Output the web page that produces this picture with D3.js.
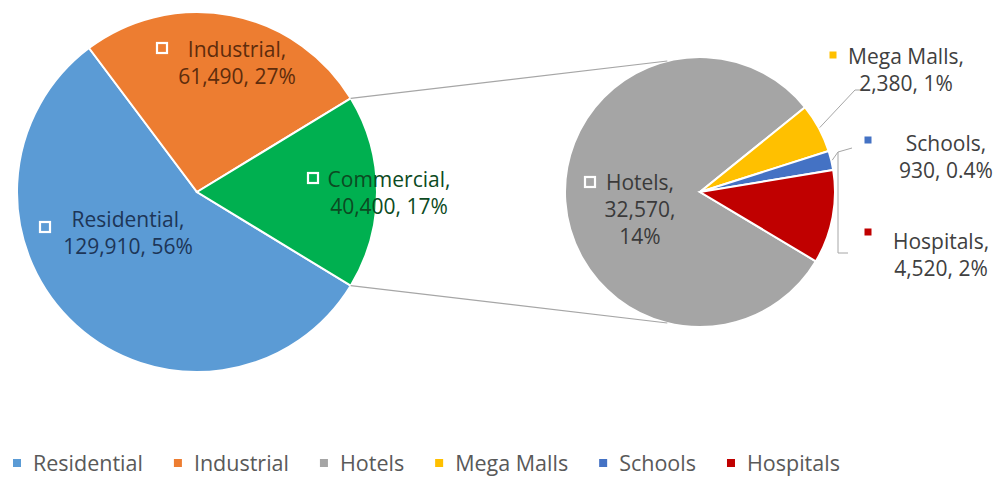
<!DOCTYPE html>
<html>
<head>
<meta charset="utf-8">
<script src="https://cdn.jsdelivr.net/npm/d3@7"></script>
<style>
  body { margin: 0; background: #fff; }
  svg text { font-family: "Open Sans", "Noto Sans", sans-serif; }
</style>
</head>
<body>
<div id="chart"></div>
<script>
// main pie data
const mainCategories = ["Residential", "Industrial", "Commercial"];
const mainValues = [129910, 61490, 40400];
const mainPercents = ["56%", "27%", "17%"];

// secondary pie data (split of Commercial)
const subCategories = ["Hotels", "Mega Malls", "Schools", "Hospitals"];
const subValues = [32570, 2380, 930, 4520];
const subPercents = ["14%", "1%", "0.4%", "2%"];

// legend order
const legendLabels = ["Residential", "Industrial", "Hotels", "Mega Malls", "Schools", "Hospitals"];

const colors = {
    "Residential": "#5b9bd5",
    "Industrial": "#ed7d31",
    "Commercial": "#00b050",
    "Hotels": "#a5a5a5",
    "Mega Malls": "#ffc000",
    "Schools": "#4472c4",
    "Hospitals": "#c00000"
};
const textColors = {
    "Residential": "#1d3557",
    "Industrial": "#5e2c0c",
    "Commercial": "#0c4a22",
    "Hotels": "#3a3a3a"
};

const width = 996, height = 477;
const main = {cx: 197, cy: 192, r: 180};
const sub = {cx: 700, cy: 192, r: 135};

const svg = d3.select("#chart").append("svg")
    .attr("width", width)
    .attr("height", height);

const fmt = d3.format(",");

// main pie: Commercial centred on the right
const mainData = mainCategories.map((c, i) => ({name: c, value: mainValues[i], pct: mainPercents[i]}));
const mainTotal = d3.sum(mainValues);
const comAngle = 2 * Math.PI * mainValues[2] / mainTotal;
const mainStart = Math.PI / 2 + comAngle / 2;
const mainPie = d3.pie().sort(null).value(d => d.value)
    .startAngle(mainStart).endAngle(mainStart + 2 * Math.PI);
const mainArcs = mainPie(mainData);
const mainArc = d3.arc().innerRadius(0).outerRadius(main.r);

const gMain = svg.append("g").attr("transform", `translate(${main.cx},${main.cy})`);
gMain.selectAll("path")
    .data(mainArcs)
    .enter().append("path")
    .attr("d", mainArc)
    .attr("fill", d => colors[d.data.name])
    .attr("stroke", "#fff")
    .attr("stroke-width", 2);

// secondary pie: small slices centred a bit above horizontal
const subData = subCategories.map((c, i) => ({name: c, value: subValues[i], pct: subPercents[i]}));
const subTotal = d3.sum(subValues);
const hotelAngle = 2 * Math.PI * subValues[0] / subTotal;
const smallSpan = 2 * Math.PI - hotelAngle;
const smallMid = 86 * Math.PI / 180;
const subStart = smallMid - smallSpan / 2 - hotelAngle;
const subPie = d3.pie().sort(null).value(d => d.value)
    .startAngle(subStart).endAngle(subStart + 2 * Math.PI);
const subArcs = subPie(subData);
const subArc = d3.arc().innerRadius(0).outerRadius(sub.r);

const gSub = svg.append("g").attr("transform", `translate(${sub.cx},${sub.cy})`);
gSub.selectAll("path")
    .data(subArcs)
    .enter().append("path")
    .attr("d", subArc)
    .attr("fill", d => colors[d.data.name])
    .attr("stroke", "#fff")
    .attr("stroke-width", 2);

// point on a circle at a d3 angle (clockwise from 12 o'clock)
function polar(c, r, a) {
    return [c.cx + r * Math.sin(a), c.cy - r * Math.cos(a)];
}

// connector lines between Commercial and the secondary pie
const com = mainArcs[2];
const tilt = 14 * Math.PI / 180;
const connectors = [
    [polar(main, main.r, com.startAngle), polar(sub, sub.r, -tilt)],
    [polar(main, main.r, com.endAngle), polar(sub, sub.r, Math.PI + tilt)]
];
svg.selectAll(".connector")
    .data(connectors)
    .enter().append("line")
    .attr("class", "connector")
    .attr("x1", d => d[0][0]).attr("y1", d => d[0][1])
    .attr("x2", d => d[1][0]).attr("y2", d => d[1][1])
    .attr("stroke", "#a6a6a6")
    .attr("stroke-width", 1.2);

// leader lines for the small outside labels
const midOf = name => {
    const a = subArcs.find(d => d.data.name === name);
    return (a.startAngle + a.endAngle) / 2;
};
const leaders = [
    [polar(sub, sub.r + 1, midOf("Mega Malls")), [855, 90], [863, 90]],
    [polar(sub, sub.r + 1, midOf("Schools")), [838, 152], [852, 148]],
    [[838, 152], [838, 253], [848, 253]]
];
svg.selectAll(".leader")
    .data(leaders)
    .enter().append("path")
    .attr("class", "leader")
    .attr("d", d => d3.line()(d))
    .attr("fill", "none")
    .attr("stroke", "#a6a6a6")
    .attr("stroke-width", 1);

// data label layout: text centre x, first line y, key position
const labelLayout = {
    "Residential": {x: 128, y: 227, kx: 45, ky: 227, inside: true},
    "Industrial": {x: 237, y: 57, kx: 162, ky: 48, inside: true},
    "Commercial": {x: 389, y: 187, kx: 313, ky: 178, inside: true},
    "Hotels": {x: 640, y: 190, kx: 590, ky: 182, inside: true},
    "Mega Malls": {x: 906, y: 64, kx: 833, ky: 55, inside: false},
    "Schools": {x: 946, y: 151, kx: 868, ky: 140, inside: false},
    "Hospitals": {x: 941, y: 249, kx: 868, ky: 232, inside: false}
};
const lineGap = 27;

const labelItems = mainData.concat(subData)
    .map(d => {
        const lines = d.name === "Hotels"
            ? [d.name + ",", fmt(d.value) + ",", d.pct]
            : [d.name + ",", fmt(d.value) + ", " + d.pct];
        return Object.assign({lines}, d, labelLayout[d.name]);
    });

const labels = svg.selectAll(".label")
    .data(labelItems)
    .enter().append("g")
    .attr("class", "label");

labels.append("rect")
    .attr("x", d => d.kx - (d.inside ? 5 : 3.5))
    .attr("y", d => d.ky - (d.inside ? 5 : 3.5))
    .attr("width", d => d.inside ? 10 : 7)
    .attr("height", d => d.inside ? 10 : 7)
    .attr("fill", d => colors[d.name])
    .attr("stroke", d => d.inside ? "#fff" : "none")
    .attr("stroke-width", 2.2);

labels.append("text")
    .attr("text-anchor", "middle")
    .attr("font-size", 21)
    .attr("fill", d => textColors[d.name] || "#404040")
    .selectAll("tspan")
    .data(d => d.lines.map((t, i) => ({t, i, d})))
    .enter().append("tspan")
    .attr("x", e => e.d.x)
    .attr("y", e => e.d.y + e.i * lineGap)
    .text(e => e.t);

// legend
const legend = svg.append("g").attr("class", "legend");
let lx = 13;
const ly = 464;
legendLabels.forEach(name => {
    legend.append("rect")
        .attr("x", lx)
        .attr("y", ly - 5)
        .attr("width", 8)
        .attr("height", 8)
        .attr("fill", colors[name]);
    const t = legend.append("text")
        .attr("x", lx + 20)
        .attr("y", ly + 7)
        .attr("font-size", 21.5)
        .attr("fill", "#595959")
        .text(name);
    lx += 20 + t.node().getComputedTextLength() + 31;
});
</script>
</body>
</html>
